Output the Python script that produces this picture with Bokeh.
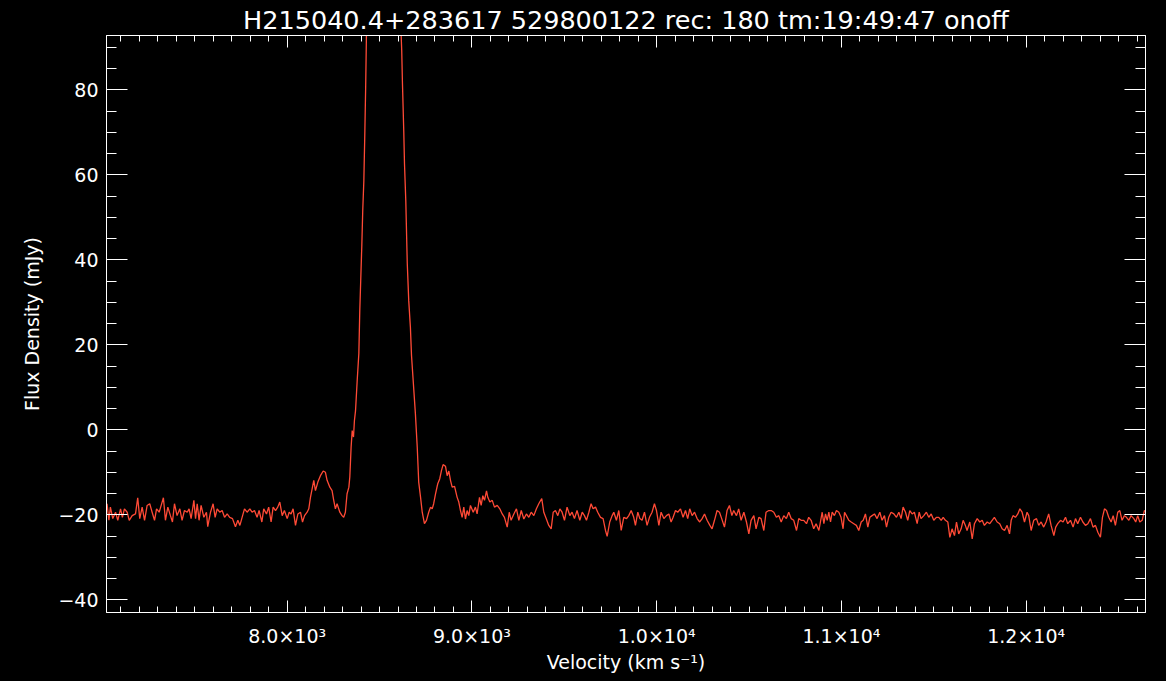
from bokeh.plotting import figure
from bokeh.models import LinearAxis, FixedTicker, Range1d, GlobalInlineStyleSheet
from bokeh.embed import file_html
from bokeh.resources import INLINE

# ---------------- data ----------------
velocity = [
    7012, 7025, 7035, 7043, 7056, 7071, 7083, 7098, 7108, 7119, 7134, 7145, 7161, 7179, 7191, 7202,
    7215, 7228, 7242, 7256, 7269, 7282, 7293, 7307, 7318, 7330, 7341, 7354, 7368, 7379, 7390, 7404,
    7419, 7431, 7444, 7459, 7469, 7480, 7495, 7504, 7513, 7523, 7534, 7549, 7563, 7570, 7585, 7599,
    7610, 7621, 7635, 7648, 7661, 7675, 7689, 7704, 7720, 7733, 7744, 7756, 7769, 7783, 7798, 7810,
    7823, 7837, 7848, 7863, 7873, 7888, 7900, 7913, 7924, 7937, 7949, 7960, 7973, 7985, 8000, 8011,
    8021, 8032, 8045, 8058, 8072, 8083, 8094, 8108,
    8117, 8126, 8144, 8153, 8166, 8180, 8195, 8207, 8216, 8231, 8243, 8252, 8261, 8270, 8285, 8297,
    8306, 8315, 8324, 8334, 8339, 8346, 8352, 8359, 8364, 8370, 8379, 8388, 8393, 8398, 8404, 8409,
    8415, 8420, 8425, 8429, 8435, 8451, 8478, 8527, 8570, 8603, 8611, 8617, 8620, 8624, 8631, 8635,
    8642, 8650, 8658, 8667, 8673, 8682, 8694, 8704, 8712, 8722, 8731, 8743, 8754, 8766, 8776, 8785,
    8793, 8803, 8815, 8826, 8835, 8844, 8857, 8866, 8875, 8884, 8893, 8906, 8920, 8929, 8938, 8947,
    8956, 8965, 8974, 8983, 8992, 9007, 9019, 9028, 9041, 9050, 9059, 9068, 9079, 9086, 9097, 9110,
    9122, 9137, 9151, 9164, 9176, 9191, 9202, 9212, 9227, 9241, 9254, 9267, 9281, 9295, 9308, 9321,
    9335, 9349, 9362,
    9367, 9378, 9389, 9402, 9416, 9429, 9440, 9452, 9465, 9476, 9488, 9501, 9515, 9530, 9542, 9555,
    9569, 9584, 9597, 9609, 9620, 9633, 9645, 9656, 9669, 9681, 9696, 9710, 9723, 9732, 9746, 9759,
    9768, 9782, 9795, 9808, 9822, 9837, 9849, 9862, 9876, 9885, 9898, 9909, 9921, 9934, 9948, 9961,
    9975, 9988, 9999, 10012, 10024, 10039, 10053, 10066, 10078, 10089, 10102, 10114, 10129, 10143,
    10156, 10168, 10179, 10192, 10205, 10219, 10233, 10246, 10259, 10273, 10288, 10300, 10313, 10327,
    10340, 10352, 10367, 10381, 10394, 10407, 10417, 10432, 10444, 10457, 10472, 10486, 10499, 10511,
    10526, 10538, 10553, 10565, 10580, 10592, 10607, 10620, 10634, 10648, 10661, 10674, 10688, 10702,
    10715, 10728, 10742, 10757, 10769, 10782, 10796, 10811, 10823, 10836, 10850, 10863, 10878,
    10896, 10905, 10914, 10923, 10932, 10941, 10950, 10962, 10973, 10986, 10998, 11009, 11017, 11027,
    11040, 11053, 11067, 11081, 11094, 11107, 11118, 11130, 11143, 11154, 11166, 11179, 11193, 11208,
    11220, 11233, 11244, 11256, 11269, 11284, 11298, 11311, 11323, 11334, 11347, 11359, 11370, 11383,
    11395, 11410, 11421, 11431, 11446, 11460, 11473, 11486, 11500, 11514, 11527, 11540, 11551, 11563,
    11576, 11587, 11599, 11612, 11623, 11635, 11648, 11659, 11671, 11680, 11695, 11708, 11720, 11735,
    11749, 11762, 11774, 11789, 11803, 11816, 11828, 11843, 11857, 11870, 11883, 11897, 11910, 11919,
    11929, 11942, 11955, 11966, 11978, 11991, 12005, 12014, 12027, 12041, 12056, 12068, 12081, 12095,
    12108, 12122, 12135, 12150, 12160, 12171, 12186, 12200, 12213, 12225, 12240, 12254, 12267, 12279,
    12294, 12307, 12321, 12334, 12348, 12362, 12375, 12388, 12402, 12413, 12424, 12435, 12447, 12460,
    12471, 12483, 12496, 12507, 12519, 12532, 12543, 12556, 12568, 12583, 12593, 12604, 12615, 12628,
    12640, 12651,
]
flux = [
    -19.4, -17.4, -21.3, -18.2, -20.9, -19.4, -21.3, -18.6, -20.6, -18.6, -19.4, -21.3, -20.2, -19.8, -16.0, -20.9,
    -18.2, -21.3, -17.8, -17.4, -19.4, -21.3, -18.6, -19.4, -17.8, -16.0, -21.3, -18.2, -20.2, -21.7, -17.4, -20.2,
    -18.6, -21.3, -19.0, -19.4, -18.6, -20.9, -16.6, -20.9, -17.4, -21.3, -17.8, -20.6, -19.4, -22.8, -19.4, -17.4,
    -20.6, -18.6, -19.4, -19.0, -20.6, -19.8, -20.6, -20.9, -22.8, -21.3, -22.5, -20.6, -18.6, -19.4, -18.6, -19.4,
    -19.0, -20.6, -19.0, -21.7, -18.6, -19.8, -18.2, -21.7, -18.2, -19.0, -18.2, -17.0, -20.2, -19.0, -20.9, -19.4,
    -19.8, -18.6, -22.5, -19.8, -19.4, -21.7, -20.2, -19.4,
    -18.6, -15.9, -11.9, -14.3, -12.3, -10.8, -9.7, -10.0, -11.9, -13.5, -14.3, -16.6, -18.6, -17.4, -19.4, -20.2,
    -20.6, -19.4, -15.1, -13.5, -11.1, -4.1, -0.2, -1.7, 2.2, 4.5, 11.6, 18.0, 28.1, 35.1, 43.4, 51.6,
    58.6, 69.2, 81.0, 92.8, 110.0, 140.0, 165.0, 175.0, 165.0, 140.0, 110.0, 92.8, 89.3, 81.5, 70.4, 62.6,
    54.0, 39.2, 30.4, 24.1, 17.5, 11.6, 3.8, -4.1, -12.3, -15.9, -19.4, -22.1, -21.3, -19.4, -18.2, -18.6,
    -17.4, -15.1, -12.7, -11.5, -9.6, -8.2, -8.6, -10.8, -9.7, -11.9, -13.5, -13.3, -15.9, -17.0, -19.0, -20.6,
    -18.2, -21.0, -19.0, -20.2, -17.8, -19.4, -18.2, -19.8, -15.9, -17.8, -15.5, -16.6, -14.4, -15.9, -17.0, -16.6,
    -18.2, -17.8, -18.6, -19.8, -20.6, -22.9, -19.4, -21.3, -19.8, -18.6, -21.3, -19.0, -21.0, -19.8, -20.6, -19.4,
    -20.2, -18.6, -17.4,
    -17.0, -16.2, -19.4, -20.9, -22.5, -23.3, -19.4, -19.0, -20.2, -18.6, -19.4, -21.3, -18.2, -20.2, -19.4, -20.9,
    -19.0, -21.3, -19.4, -20.2, -21.3, -19.4, -17.4, -18.6, -18.2, -19.4, -20.6, -20.9, -23.7, -25.1, -21.7, -20.2,
    -19.4, -21.3, -19.0, -23.7, -20.6, -20.9, -20.2, -19.0, -20.6, -22.5, -19.4, -20.9, -21.3, -19.4, -22.5, -20.6,
    -19.4, -17.4, -19.0, -22.5, -19.4, -20.9, -20.2, -19.8, -21.7, -20.6, -19.0, -19.4, -18.6, -20.6,
    -19.0, -20.9, -18.6, -20.2, -19.4, -20.9, -21.7, -20.9, -19.8, -21.3, -22.5, -23.3, -21.3, -19.0,
    -19.4, -20.9, -22.9, -19.0, -17.8, -20.2, -19.0, -20.2, -18.6, -21.3, -19.4, -21.7, -24.5, -21.3,
    -20.2, -23.3, -20.6, -20.9, -23.7, -19.4, -19.0, -19.0, -19.4, -20.6, -20.2, -21.7, -20.2, -20.9,
    -19.4, -20.9, -21.3, -23.7, -20.9, -21.3, -21.3, -22.1, -20.6, -21.3, -23.3, -22.1, -23.7,
    -19.4, -22.1, -19.8, -21.3, -19.4, -21.7, -19.4, -20.2, -19.0, -19.4, -20.6, -23.3, -19.4, -20.2,
    -21.3, -21.7, -22.1, -22.5, -23.7, -21.7, -21.3, -19.8, -22.9, -20.6, -20.2, -19.8, -20.9, -19.4,
    -21.3, -20.2, -22.9, -20.6, -19.4, -19.8, -20.6, -19.4, -20.9, -18.2, -19.4, -21.3, -19.0, -19.8,
    -19.4, -22.1, -19.4, -20.9, -20.2, -19.4, -20.6, -19.8, -21.3, -20.6, -20.6, -21.3, -20.6, -21.3,
    -21.7, -25.3, -23.3, -24.9, -21.7, -24.5, -23.3, -21.3, -22.5, -23.7, -21.7, -25.7, -22.1, -20.9,
    -21.7, -21.3, -22.5, -21.7, -22.1, -21.3, -20.6, -21.7, -22.1, -23.3, -23.7, -22.5, -24.5, -21.3,
    -20.2, -20.6, -19.8, -18.6, -19.4, -21.7, -19.4, -20.2, -23.7, -21.3, -20.9, -22.5, -21.7, -22.9,
    -21.7, -19.8, -22.5, -24.9, -22.9, -22.1, -21.3, -21.7, -20.6, -22.1, -21.3, -22.9, -20.9, -22.1,
    -20.6, -21.7, -22.5, -22.1, -20.9, -22.9, -22.5, -24.1, -25.3, -20.6, -18.6, -19.0, -20.6, -21.7,
    -20.2, -22.5, -19.4, -19.0, -21.3, -20.2, -20.6, -21.3, -20.2, -20.9, -21.7, -20.2, -21.7, -21.3,
    -19.0, -19.4,
]

x_major = [8000, 9000, 10000, 11000, 12000]
x_major_labels = ["8.0×10³", "9.0×10³", "1.0×10⁴", "1.1×10⁴", "1.2×10⁴"]
x_minor = list(range(7100, 12700, 100))
y_major = [-40, -20, 0, 20, 40, 60, 80]
y_major_labels = ["−40", "−20", "0", "20", "40", "60", "80"]
y_minor = list(range(-40, 95, 5))
x_limits = (7022, 12646)
y_limits = (-43.0, 92.8)
title_text = "H215040.4+283617 529800122 rec: 180 tm:19:49:47 onoff"
x_label = "Velocity (km s⁻¹)"
y_label = "Flux Density (mJy)"

# ---------------- figure ----------------
FONT = "DejaVu Sans"
WHITE = "white"

p = figure(
    width=1166, height=681,
    x_range=Range1d(*x_limits), y_range=Range1d(*y_limits),
    output_backend="svg", toolbar_location=None,
    min_border_left=106, min_border_right=21, min_border_top=35, min_border_bottom=69,
    background_fill_color="black", border_fill_color="black",
    outline_line_color=WHITE, outline_line_width=1,
)
p.stylesheets = [GlobalInlineStyleSheet(css="html, body { background-color: #000; }")]
p.grid.visible = False

p.title.text = title_text
p.title.align = "center"
p.title.text_font = FONT
p.title.text_font_style = "normal"
p.title.text_font_size = "25.5px"
p.title.text_color = WHITE
p.title.standoff = 2


def style_axis(ax, major_in, minor_in, labels=True):
    ax.axis_line_color = WHITE
    ax.major_tick_line_color = WHITE
    ax.minor_tick_line_color = WHITE
    ax.major_tick_in = major_in
    ax.major_tick_out = 0
    ax.minor_tick_in = minor_in
    ax.minor_tick_out = 0
    ax.major_label_text_font = FONT
    ax.axis_label_text_font = FONT
    ax.axis_label_text_font_style = "normal"
    ax.axis_label_text_color = WHITE
    ax.axis_label_text_font_size = "19px"
    if labels:
        ax.major_label_text_color = WHITE
        ax.major_label_text_font_size = "19px"
    else:
        ax.major_label_text_color = None
        ax.major_label_text_alpha = 0
        ax.major_label_standoff = 0


xax = p.xaxis[0]
xax.ticker = FixedTicker(ticks=x_major, minor_ticks=x_minor)
xax.major_label_overrides = dict(zip(x_major, x_major_labels))
style_axis(xax, 12, 6)
xax.major_label_standoff = 12
xax.axis_label = x_label
xax.axis_label_standoff = 1

yax = p.yaxis[0]
yax.ticker = FixedTicker(ticks=y_major, minor_ticks=y_minor)
yax.major_label_overrides = dict(zip(y_major, y_major_labels))
style_axis(yax, 21, 10)
yax.major_label_standoff = 8
yax.axis_label = y_label
yax.axis_label_standoff = 12

top_ax = LinearAxis(ticker=FixedTicker(ticks=x_major, minor_ticks=x_minor))
style_axis(top_ax, 12, 6, labels=False)
p.add_layout(top_ax, "above")

right_ax = LinearAxis(ticker=FixedTicker(ticks=y_major, minor_ticks=y_minor))
style_axis(right_ax, 21, 10, labels=False)
p.add_layout(right_ax, "right")

p.line(velocity, flux, line_color="#ff4a36", line_width=1.3)

open("out.html", "w").write(file_html(p, INLINE))
